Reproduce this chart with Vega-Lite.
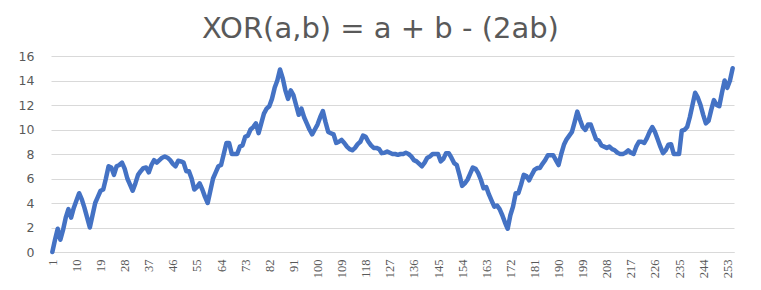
{
"$schema": "https://vega.github.io/schema/vega-lite/v6.json",
"width": 683, "height": 196,
"autosize": {"type": "none"},
"padding": {"left": 51, "top": 56, "right": 27, "bottom": 38},
"background": "white",
"title": {"text": "XOR(a,b) = a + b - (2ab)", "font": "DejaVu Sans", "fontSize": 29, "fontWeight": "normal", "color": "#595959", "anchor": "middle", "dx": -12, "offset": 6},
"data": {"values": [
{"n":1,"v":0},{"n":2,"v":1.0},{"n":3,"v":1.9},{"n":4,"v":1.0},{"n":5,"v":1.8},{"n":6,"v":2.8},{"n":7,"v":3.5},{"n":8,"v":2.8},{"n":9,"v":3.6},{"n":10,"v":4.2},
{"n":11,"v":4.8},{"n":12,"v":4.3},{"n":13,"v":3.6},{"n":14,"v":2.8},{"n":15,"v":2.0},{"n":16,"v":3.0},{"n":17,"v":4.0},{"n":18,"v":4.5},{"n":19,"v":5.0},{"n":20,"v":5.1},
{"n":21,"v":6.0},{"n":22,"v":7.0},{"n":23,"v":6.9},{"n":24,"v":6.3},{"n":25,"v":7.0},{"n":26,"v":7.1},{"n":27,"v":7.3},{"n":28,"v":6.8},{"n":29,"v":6.0},{"n":30,"v":5.5},
{"n":31,"v":5.0},{"n":32,"v":5.6},{"n":33,"v":6.3},{"n":34,"v":6.6},{"n":35,"v":6.85},{"n":36,"v":6.9},{"n":37,"v":6.5},{"n":38,"v":7.1},{"n":39,"v":7.5},{"n":40,"v":7.3},
{"n":41,"v":7.5},{"n":42,"v":7.7},{"n":43,"v":7.8},{"n":44,"v":7.7},{"n":45,"v":7.5},{"n":46,"v":7.2},{"n":47,"v":7.0},{"n":48,"v":7.45},{"n":49,"v":7.4},{"n":50,"v":7.3},
{"n":51,"v":6.6},{"n":52,"v":6.6},{"n":53,"v":6.0},{"n":54,"v":5.1},{"n":55,"v":5.3},{"n":56,"v":5.6},{"n":57,"v":5.1},{"n":58,"v":4.5},{"n":59,"v":4.0},{"n":60,"v":5.0},
{"n":61,"v":6.0},{"n":62,"v":6.5},{"n":63,"v":7.0},{"n":64,"v":7.1},{"n":65,"v":8.0},{"n":66,"v":8.9},{"n":67,"v":8.9},{"n":68,"v":8.0},{"n":69,"v":8.0},{"n":70,"v":8.0},
{"n":71,"v":8.6},{"n":72,"v":8.7},{"n":73,"v":9.4},{"n":74,"v":9.5},{"n":75,"v":10.0},{"n":76,"v":10.2},{"n":77,"v":10.5},{"n":78,"v":9.7},{"n":79,"v":10.5},{"n":80,"v":11.3},
{"n":81,"v":11.7},{"n":82,"v":11.9},{"n":83,"v":12.5},{"n":84,"v":13.4},{"n":85,"v":14.0},{"n":86,"v":14.9},{"n":87,"v":14.2},{"n":88,"v":13.2},{"n":89,"v":12.5},{"n":90,"v":13.2},
{"n":91,"v":12.8},{"n":92,"v":12.0},{"n":93,"v":11.2},{"n":94,"v":11.7},{"n":95,"v":11.0},{"n":96,"v":10.5},{"n":97,"v":10.0},{"n":98,"v":9.6},{"n":99,"v":10.0},{"n":100,"v":10.4},
{"n":101,"v":11.0},{"n":102,"v":11.5},{"n":103,"v":10.6},{"n":104,"v":9.8},{"n":105,"v":9.7},{"n":106,"v":9.6},{"n":107,"v":8.9},{"n":108,"v":9.0},{"n":109,"v":9.15},{"n":110,"v":8.9},
{"n":111,"v":8.6},{"n":112,"v":8.4},{"n":113,"v":8.3},{"n":114,"v":8.5},{"n":115,"v":8.8},{"n":116,"v":9.0},{"n":117,"v":9.5},{"n":118,"v":9.4},{"n":119,"v":9.0},{"n":120,"v":8.7},
{"n":121,"v":8.5},{"n":122,"v":8.5},{"n":123,"v":8.4},{"n":124,"v":8.07},{"n":125,"v":8.1},{"n":126,"v":8.2},{"n":127,"v":8.1},{"n":128,"v":8.0},{"n":129,"v":8.0},{"n":130,"v":7.93},
{"n":131,"v":8.0},{"n":132,"v":8.0},{"n":133,"v":8.1},{"n":134,"v":8.0},{"n":135,"v":7.8},{"n":136,"v":7.5},{"n":137,"v":7.4},{"n":138,"v":7.2},{"n":139,"v":7.0},{"n":140,"v":7.3},
{"n":141,"v":7.7},{"n":142,"v":7.8},{"n":143,"v":8.0},{"n":144,"v":8.0},{"n":145,"v":8.0},{"n":146,"v":7.4},{"n":147,"v":7.6},{"n":148,"v":8.07},{"n":149,"v":8.07},{"n":150,"v":7.7},
{"n":151,"v":7.26},{"n":152,"v":7.1},{"n":153,"v":6.3},{"n":154,"v":5.4},{"n":155,"v":5.6},{"n":156,"v":5.9},{"n":157,"v":6.4},{"n":158,"v":6.9},{"n":159,"v":6.8},{"n":160,"v":6.44},
{"n":161,"v":5.9},{"n":162,"v":5.2},{"n":163,"v":5.3},{"n":164,"v":4.7},{"n":165,"v":4.2},{"n":166,"v":3.7},{"n":167,"v":3.8},{"n":168,"v":3.5},{"n":169,"v":3.0},{"n":170,"v":2.4},
{"n":171,"v":1.9},{"n":172,"v":3.0},{"n":173,"v":3.7},{"n":174,"v":4.8},{"n":175,"v":4.8},{"n":176,"v":5.5},{"n":177,"v":6.3},{"n":178,"v":6.2},{"n":179,"v":5.85},{"n":180,"v":6.3},
{"n":181,"v":6.7},{"n":182,"v":6.85},{"n":183,"v":6.85},{"n":184,"v":7.2},{"n":185,"v":7.5},{"n":186,"v":7.9},{"n":187,"v":7.9},{"n":188,"v":7.9},{"n":189,"v":7.5},{"n":190,"v":7.1},
{"n":191,"v":8.0},{"n":192,"v":8.75},{"n":193,"v":9.2},{"n":194,"v":9.5},{"n":195,"v":9.8},{"n":196,"v":10.6},{"n":197,"v":11.46},{"n":198,"v":10.8},{"n":199,"v":10.2},{"n":200,"v":9.97},
{"n":201,"v":10.4},{"n":202,"v":10.4},{"n":203,"v":9.8},{"n":204,"v":9.2},{"n":205,"v":9.1},{"n":206,"v":8.7},{"n":207,"v":8.6},{"n":208,"v":8.5},{"n":209,"v":8.6},{"n":210,"v":8.4},
{"n":211,"v":8.3},{"n":212,"v":8.1},{"n":213,"v":8.0},{"n":214,"v":8.0},{"n":215,"v":8.1},{"n":216,"v":8.3},{"n":217,"v":8.1},{"n":218,"v":8.0},{"n":219,"v":8.6},{"n":220,"v":9.0},
{"n":221,"v":9.0},{"n":222,"v":8.9},{"n":223,"v":9.3},{"n":224,"v":9.8},{"n":225,"v":10.2},{"n":226,"v":9.8},{"n":227,"v":9.2},{"n":228,"v":8.6},{"n":229,"v":8.07},{"n":230,"v":8.3},
{"n":231,"v":8.75},{"n":232,"v":8.8},{"n":233,"v":8.0},{"n":234,"v":8.0},{"n":235,"v":8.0},{"n":236,"v":9.9},{"n":237,"v":9.97},{"n":238,"v":10.2},{"n":239,"v":11.0},{"n":240,"v":12.0},
{"n":241,"v":13.0},{"n":242,"v":12.6},{"n":243,"v":12.0},{"n":244,"v":11.2},{"n":245,"v":10.5},{"n":246,"v":10.7},{"n":247,"v":11.6},{"n":248,"v":12.4},{"n":249,"v":12.0},{"n":250,"v":11.9},
{"n":251,"v":13.0},{"n":252,"v":14.0},{"n":253,"v":13.4},{"n":254,"v":14.0},{"n":255,"v":15.0}
]},
"mark": {"type": "line", "color": "#4472C4", "strokeWidth": 4.5, "strokeJoin": "round", "strokeCap": "round"},
"encoding": {
"x": {"field": "n", "type": "quantitative", "scale": {"domain": [0.5, 255.5], "nice": false, "zero": false},
"axis": {"values": [1,10,19,28,37,46,55,64,73,82,91,100,109,118,127,136,145,154,163,172,181,190,199,208,217,226,235,244,253], "labelAngle": -90, "title": null, "grid": false, "ticks": false, "domainColor": "#d9d9d9", "labelFont": "Liberation Serif", "labelFontSize": 12.5, "labelColor": "#595959", "labelPadding": 7, "format": "d", "labelOverlap": false}},
"y": {"field": "v", "type": "quantitative", "scale": {"domain": [0, 16], "nice": false},
"axis": {"values": [0,2,4,6,8,10,12,14,16], "title": null, "domain": false, "ticks": false, "gridColor": "#d9d9d9", "labelFont": "DejaVu Sans", "labelFontSize": 12.5, "labelColor": "#595959", "labelPadding": 17}}
},
"config": {"view": {"stroke": null}}
}
